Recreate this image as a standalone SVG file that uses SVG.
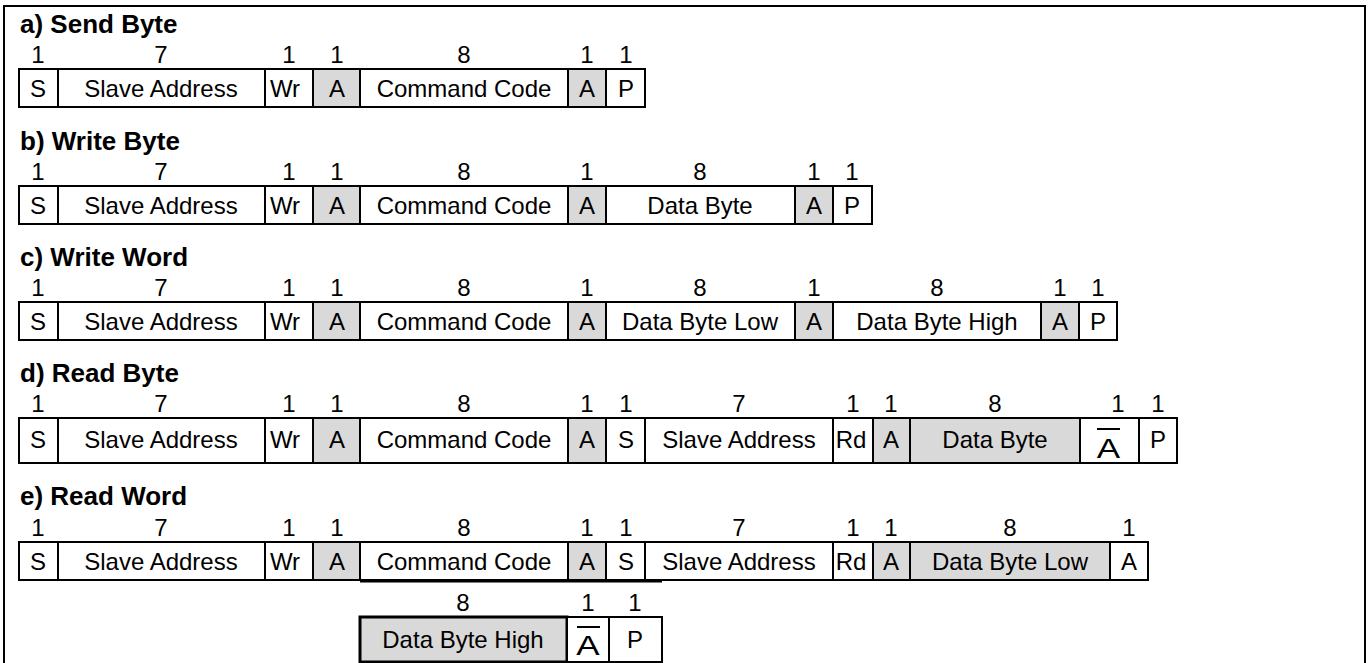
<svg xmlns="http://www.w3.org/2000/svg" width="1369" height="663" viewBox="0 0 1369 663">
<style>
.w{fill:#fff;stroke:#000;stroke-width:2}
.g{fill:#d9d9d9;stroke:#000;stroke-width:2}
.gt{fill:#d9d9d9;stroke:#000;stroke-width:3}
text{font-family:"Liberation Sans",Arial,sans-serif;fill:#000}
.t{font-size:24px;text-anchor:middle}
.n{font-size:24px;text-anchor:middle}
.h{font-size:26px;font-weight:bold}
.ab{font-size:28px;text-anchor:middle}
.ol{stroke:#000;stroke-width:2}
</style>
<rect x="4" y="6" width="1361" height="680" fill="#fff" stroke="#000" stroke-width="2"/>
<g id="connectors"/>

<g id="row-a">
<text class="h" x="20" y="33">a) Send Byte</text>
<g class="n"><text class="n" x="38" y="63">1</text><text class="n" x="161" y="63">7</text><text class="n" x="289" y="63">1</text><text class="n" x="337" y="63">1</text><text class="n" x="464" y="63">8</text><text class="n" x="587" y="63">1</text><text class="n" x="626" y="63">1</text></g>
<rect class="w" x="19" y="69" width="39" height="38"/><text class="t" x="38" y="97">S</text>
<rect class="w" x="58" y="69" width="207" height="38"/><text class="t" x="161" y="97">Slave Address</text>
<rect class="w" x="265" y="69" width="48" height="38"/><text class="t" x="285" y="97">Wr</text>
<rect class="g" x="313" y="69" width="47" height="38"/><text class="t" x="337" y="97">A</text>
<rect class="w" x="360" y="69" width="208" height="38"/><text class="t" x="464" y="97">Command Code</text>
<rect class="g" x="568" y="69" width="38" height="38"/><text class="t" x="587" y="97">A</text>
<rect class="w" x="606" y="69" width="39" height="38"/><text class="t" x="626" y="97">P</text>
</g>

<g id="row-b">
<text class="h" x="20" y="150">b) Write Byte</text>
<text class="n" x="38" y="180">1</text><text class="n" x="161" y="180">7</text><text class="n" x="289" y="180">1</text><text class="n" x="337" y="180">1</text><text class="n" x="464" y="180">8</text><text class="n" x="587" y="180">1</text><text class="n" x="700" y="180">8</text><text class="n" x="814" y="180">1</text><text class="n" x="852" y="180">1</text>
<rect class="w" x="19" y="186" width="39" height="38"/><text class="t" x="38" y="214">S</text>
<rect class="w" x="58" y="186" width="207" height="38"/><text class="t" x="161" y="214">Slave Address</text>
<rect class="w" x="265" y="186" width="48" height="38"/><text class="t" x="285" y="214">Wr</text>
<rect class="g" x="313" y="186" width="47" height="38"/><text class="t" x="337" y="214">A</text>
<rect class="w" x="360" y="186" width="208" height="38"/><text class="t" x="464" y="214">Command Code</text>
<rect class="g" x="568" y="186" width="38" height="38"/><text class="t" x="587" y="214">A</text>
<rect class="w" x="606" y="186" width="189" height="38"/><text class="t" x="700" y="214">Data Byte</text>
<rect class="g" x="795" y="186" width="38" height="38"/><text class="t" x="814" y="214">A</text>
<rect class="w" x="833" y="186" width="39" height="38"/><text class="t" x="852" y="214">P</text>
</g>

<g id="row-c">
<text class="h" x="20" y="266">c) Write Word</text>
<text class="n" x="38" y="296">1</text><text class="n" x="161" y="296">7</text><text class="n" x="289" y="296">1</text><text class="n" x="337" y="296">1</text><text class="n" x="464" y="296">8</text><text class="n" x="587" y="296">1</text><text class="n" x="700" y="296">8</text><text class="n" x="814" y="296">1</text><text class="n" x="937" y="296">8</text><text class="n" x="1060" y="296">1</text><text class="n" x="1098" y="296">1</text>
<rect class="w" x="19" y="302" width="39" height="38"/><text class="t" x="38" y="330">S</text>
<rect class="w" x="58" y="302" width="207" height="38"/><text class="t" x="161" y="330">Slave Address</text>
<rect class="w" x="265" y="302" width="48" height="38"/><text class="t" x="285" y="330">Wr</text>
<rect class="g" x="313" y="302" width="47" height="38"/><text class="t" x="337" y="330">A</text>
<rect class="w" x="360" y="302" width="208" height="38"/><text class="t" x="464" y="330">Command Code</text>
<rect class="g" x="568" y="302" width="38" height="38"/><text class="t" x="587" y="330">A</text>
<rect class="w" x="606" y="302" width="189" height="38"/><text class="t" x="700" y="330">Data Byte Low</text>
<rect class="g" x="795" y="302" width="38" height="38"/><text class="t" x="814" y="330">A</text>
<rect class="w" x="833" y="302" width="208" height="38"/><text class="t" x="937" y="330">Data Byte High</text>
<rect class="g" x="1041" y="302" width="38" height="38"/><text class="t" x="1060" y="330">A</text>
<rect class="w" x="1079" y="302" width="38" height="38"/><text class="t" x="1098" y="330">P</text>
</g>

<g id="row-d">
<text class="h" x="20" y="382">d) Read Byte</text>
<text class="n" x="38" y="412">1</text><text class="n" x="161" y="412">7</text><text class="n" x="289" y="412">1</text><text class="n" x="337" y="412">1</text><text class="n" x="464" y="412">8</text><text class="n" x="587" y="412">1</text><text class="n" x="626" y="412">1</text><text class="n" x="739" y="412">7</text><text class="n" x="853" y="412">1</text><text class="n" x="891" y="412">1</text><text class="n" x="995" y="412">8</text><text class="n" x="1118" y="412">1</text><text class="n" x="1158" y="412">1</text>
<rect class="w" x="19" y="418" width="39" height="45"/><text class="t" x="38" y="448">S</text>
<rect class="w" x="58" y="418" width="207" height="45"/><text class="t" x="161" y="448">Slave Address</text>
<rect class="w" x="265" y="418" width="48" height="45"/><text class="t" x="285" y="448">Wr</text>
<rect class="g" x="313" y="418" width="47" height="45"/><text class="t" x="337" y="448">A</text>
<rect class="w" x="360" y="418" width="208" height="45"/><text class="t" x="464" y="448">Command Code</text>
<rect class="g" x="568" y="418" width="38" height="45"/><text class="t" x="587" y="448">A</text>
<rect class="w" x="606" y="418" width="39" height="45"/><text class="t" x="626" y="448">S</text>
<rect class="w" x="645" y="418" width="188" height="45"/><text class="t" x="739" y="448">Slave Address</text>
<rect class="w" x="833" y="418" width="40" height="45"/><text class="t" x="851" y="448">Rd</text>
<rect class="g" x="873" y="418" width="37" height="45"/><text class="t" x="891" y="448">A</text>
<rect class="g" x="910" y="418" width="170" height="45"/><text class="t" x="995" y="448">Data Byte</text>
<rect class="w" x="1080" y="418" width="59" height="45"/><line class="ol" x1="1097" y1="429" x2="1120" y2="429"/><text class="ab" transform="translate(1108.5,458) scale(1.25,1)">A</text>
<rect class="w" x="1139" y="418" width="38" height="45"/><text class="t" x="1158" y="448">P</text>
</g>

<g id="row-e">
<text class="h" x="20" y="505">e) Read Word</text>
<text class="n" x="38" y="536">1</text><text class="n" x="161" y="536">7</text><text class="n" x="289" y="536">1</text><text class="n" x="337" y="536">1</text><text class="n" x="464" y="536">8</text><text class="n" x="587" y="536">1</text><text class="n" x="626" y="536">1</text><text class="n" x="739" y="536">7</text><text class="n" x="853" y="536">1</text><text class="n" x="891" y="536">1</text><text class="n" x="1010" y="536">8</text><text class="n" x="1129" y="536">1</text>
<rect class="w" x="19" y="542" width="39" height="38"/><text class="t" x="38" y="570">S</text>
<rect class="w" x="58" y="542" width="207" height="38"/><text class="t" x="161" y="570">Slave Address</text>
<rect class="w" x="265" y="542" width="48" height="38"/><text class="t" x="285" y="570">Wr</text>
<rect class="g" x="313" y="542" width="47" height="38"/><text class="t" x="337" y="570">A</text>
<rect class="w" x="360" y="542" width="208" height="38"/><text class="t" x="464" y="570">Command Code</text>
<rect class="g" x="568" y="542" width="38" height="38"/><text class="t" x="587" y="570">A</text>
<rect class="w" x="606" y="542" width="39" height="38"/><text class="t" x="626" y="570">S</text>
<rect class="w" x="645" y="542" width="188" height="38"/><text class="t" x="739" y="570">Slave Address</text>
<rect class="w" x="833" y="542" width="40" height="38"/><text class="t" x="851" y="570">Rd</text>
<rect class="g" x="873" y="542" width="37" height="38"/><text class="t" x="891" y="570">A</text>
<rect class="g" x="910" y="542" width="200" height="38"/><text class="t" x="1010" y="570">Data Byte Low</text>
<rect class="w" x="1110" y="542" width="38" height="38"/><text class="t" x="1129" y="570">A</text>
<line class="ol" x1="360" y1="581.5" x2="662" y2="581.5"/>
</g>

<g id="row-e2">
<text class="n" x="463" y="611">8</text><text class="n" x="588" y="611">1</text><text class="n" x="635" y="611">1</text>
<rect class="gt" x="360" y="617" width="207" height="45"/><text class="t" x="463" y="648">Data Byte High</text>
<rect class="w" x="567" y="617" width="42" height="45"/><line class="ol" x1="577" y1="627" x2="600" y2="627"/><text class="ab" transform="translate(588,655) scale(1.25,1)">A</text>
<rect class="w" x="609" y="617" width="53" height="45"/><text class="t" x="635" y="648">P</text>
</g>
</svg>
